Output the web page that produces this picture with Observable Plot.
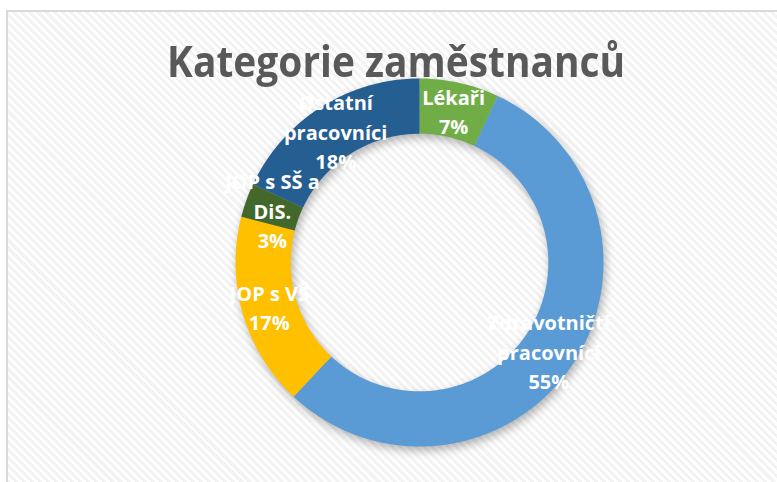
<!DOCTYPE html>
<html><head><meta charset="utf-8">
<script src="https://cdn.jsdelivr.net/npm/d3@7"></script>
<script src="https://cdn.jsdelivr.net/npm/@observablehq/plot@0.6"></script>
<style>
html,body{margin:0;padding:0;background:#fff;overflow:hidden;}
#wrap{position:relative;width:777px;height:482px;overflow:hidden;}
#frame{position:absolute;left:6px;top:10px;width:800px;height:500px;border-left:2px solid #d9d9d9;border-top:2px solid #d9d9d9;
  background:repeating-linear-gradient(45deg,#ffffff 0px,#ffffff 2.8px,#f3f3f3 2.8px,#f3f3f3 5.7px);}
#chart{position:absolute;left:0;top:0;}
#title{position:absolute;left:0;top:44px;width:792px;text-align:center;font-family:"Open Sans",sans-serif;font-weight:700;font-size:43px;line-height:33px;height:33px;color:#595959;white-space:nowrap;}
#title span{display:inline-block;transform-origin:50% 50%;}
</style>
</head><body>
<div id="wrap">
  <div id="frame"></div>
  <div id="chart"></div>
  <div id="title"><span>Kategorie zaměstnanců</span></div>
</div>
<script>
const categories = ["Lékaři", "Zdravotničtí pracovníci", "JOP s VŠ", "JOP s SŠ a DiS.", "Ostatní pracovníci"];
const values = [7, 55, 17, 3, 18];
const labelNames = ["Lékaři", "Zdravotničtí\npracovníci", "JOP s VŠ", "JOP s SŠ a\nDiS.", "Ostatní\npracovníci"];
const colors = ["#70AD47", "#5B9BD5", "#FFC000", "#43682B", "#255E91"];

const innerRatio = 0.70;
const total = d3.sum(values);
const arcs = d3.pie().sort(null).value(d => d)(values);

// polygon vertices of each ring segment, in unit coordinates (y up)
const pts = [];
arcs.forEach((a, i) => {
  const n = Math.max(4, Math.ceil((a.endAngle - a.startAngle) / (2 * Math.PI) * 360));
  for (let k = 0; k <= n; k++) {
    const t = a.startAngle + (a.endAngle - a.startAngle) * k / n;
    pts.push({cat: categories[i], x: Math.sin(t), y: Math.cos(t)});
  }
  for (let k = n; k >= 0; k--) {
    const t = a.startAngle + (a.endAngle - a.startAngle) * k / n;
    pts.push({cat: categories[i], x: innerRatio * Math.sin(t), y: innerRatio * Math.cos(t)});
  }
});

const rMid = (1 + innerRatio) / 2;
const labels = arcs.map((a, i) => {
  const t = (a.startAngle + a.endAngle) / 2;
  return {
    x: rMid * Math.sin(t),
    y: rMid * Math.cos(t),
    text: labelNames[i] + "\n" + d3.format(".0%")(values[i] / total)
  };
});

const chart = Plot.plot({
  width: 777,
  height: 482,
  marginLeft: 235,
  marginRight: 174,
  marginTop: 78,
  marginBottom: 36,
  x: {domain: [-1, 1], axis: null},
  y: {domain: [-1, 1], axis: null},
  color: {domain: categories, range: colors},
  style: {background: "transparent", overflow: "visible"},
  marks: [
    Plot.line(pts, {x: "x", y: "y", z: "cat", fill: "cat", stroke: "none", curve: "linear-closed"}),
    Plot.text(labels, {
      x: "x", y: "y", text: "text", fill: "white",
      fontSize: 20, fontWeight: "bold", fontFamily: "Open Sans", lineHeight: 1.475
    })
  ]
});
document.getElementById("chart").appendChild(chart);
chart.querySelectorAll('g[aria-label="line"]').forEach(g => {
  g.style.filter = "drop-shadow(2px 4px 5px rgba(0,0,0,0.30))";
});

// fit the title to the reference width
const span = document.querySelector("#title span");
const w = span.getBoundingClientRect().width;
span.style.transform = `scaleX(${458 / w})`;
</script>
</body></html>
